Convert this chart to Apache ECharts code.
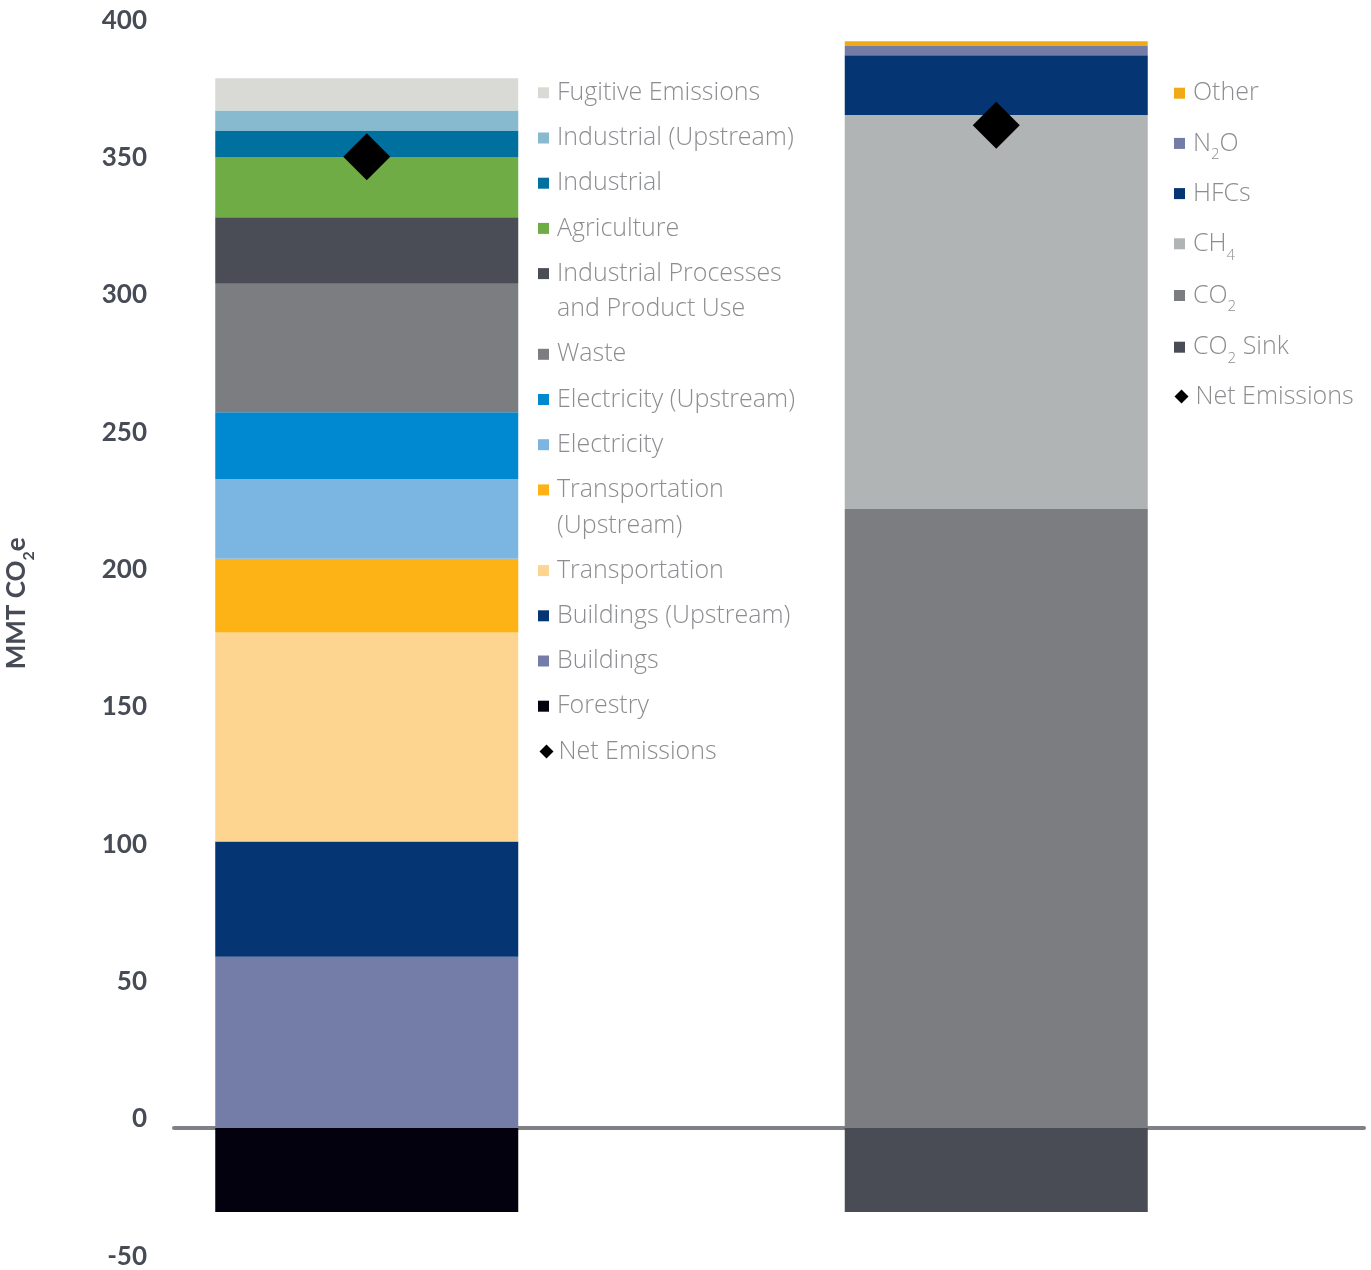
<!DOCTYPE html>
<html>
<head>
<meta charset="utf-8">
<title>Emissions by sector and by gas</title>
<script src="https://cdn.jsdelivr.net/npm/echarts@6/dist/echarts.min.js"></script>
<style>
  html, body { margin: 0; padding: 0; background: #ffffff; }
  #chart { width: 1371px; height: 1270px; }
</style>
</head>
<body>
<div id="chart"></div>
<script>
// Two stacked columns: emissions broken down by sector and by gas (MMT CO2e)
const columns = ['By Sector', 'By Gas'];

// Sector contributions, listed from the bottom of the stack upwards
const sectorNames = [
  'Forestry', 'Buildings', 'Buildings (Upstream)', 'Transportation',
  'Transportation (Upstream)', 'Electricity', 'Electricity (Upstream)', 'Waste',
  'Industrial Processes and Product Use', 'Agriculture', 'Industrial',
  'Industrial (Upstream)', 'Fugitive Emissions'
];
const sectorValues = [-30.6, 62.3, 42.0, 76.1, 26.9, 28.9, 24.4, 46.8, 24.2, 21.8, 9.8, 7.3, 11.7];

// Gas contributions, listed from the bottom of the stack upwards
const gasNames = ['CO2 Sink', 'CO2', 'CH4', 'HFCs', 'N2O', 'Other'];
const gasValues = [-30.6, 225.4, 143.4, 21.8, 3.4, 1.7];

// Net emissions of each column
const netName = 'Net Emissions';
const netEmissions = [353.6, 365.1];

// Value axis ticks
const yMin = -50;
const yMax = 400;
const yStep = 50;

// Colours
const sectorColors = [
  '#02010d', '#747da8', '#053572', '#fed590', '#fdb316', '#7ab6e1', '#0088d1',
  '#7b7d81', '#4a4d55', '#6fac46', '#00709f', '#87b9cf', '#d9d9d6'
];
const gasColors = ['#494c55', '#7b7d81', '#b1b4b4', '#053572', '#737ba7', '#efaa16'];

const AXIS_FONT = 'Lato, "Open Sans", sans-serif';
const LEGEND_FONT = '"Open Sans", Lato, sans-serif';
const LEGEND_TEXT = '#8b8d90';
const AXIS_TEXT = '#474b55';

// Long legend entries are broken over two lines
const wrappedNames = {
  'Industrial Processes and Product Use': 'Industrial Processes\nand Product Use',
  'Transportation (Upstream)': 'Transportation\n(Upstream)'
};

// Chemical formulas get their digits set as subscripts
function formula(name) {
  return name.split(/(\d)/).filter(p => p !== '')
    .map(p => /^\d$/.test(p) ? '{s|' + p + '}' : '{t|' + p + '}').join('');
}

const series = [];
sectorNames.forEach((name, i) => {
  series.push({
    type: 'bar', name: name, stack: 'total', barWidth: 303,
    xAxisIndex: 0, yAxisIndex: 0,
    itemStyle: { color: sectorColors[i] },
    emphasis: { disabled: true },
    data: [sectorValues[i], '-']
  });
});
gasNames.forEach((name, i) => {
  series.push({
    type: 'bar', name: name, stack: 'total', barWidth: 303,
    xAxisIndex: 0, yAxisIndex: 0,
    itemStyle: { color: gasColors[i] },
    emphasis: { disabled: true },
    data: ['-', gasValues[i]]
  });
});
series.push({
  type: 'scatter', name: netName, symbol: 'diamond', symbolSize: 47,
  xAxisIndex: 0, yAxisIndex: 0, z: 5,
  itemStyle: { color: '#000000', opacity: 1 },
  emphasis: { disabled: true },
  data: netEmissions
});

// ---- legends ----
const LINE = 35.5;      // legend line height
const GAP = 9.7;        // space between sector legend rows
const legendText = {
  fontFamily: LEGEND_FONT, fontWeight: 300, fontSize: 25, lineHeight: LINE,
  color: LEGEND_TEXT, padding: [0, 0, 0, 3]
};
function legendBlock(left, top, names, extra) {
  return Object.assign({
    orient: 'vertical', left: left, top: top, padding: 0,
    itemWidth: 11, itemHeight: 11, itemGap: GAP, icon: 'rect',
    selectedMode: false,
    textStyle: legendText,
    data: names
  }, extra || {});
}

// Sector legend: rows run top to bottom; a wrapped entry gets its own block
// so that its swatch sits level with the first line of its label.
const legends = [];
let rowCenter = 92.8;
let block = null;
sectorNames.slice().reverse().forEach(name => {
  const wrapped = !!wrappedNames[name];
  if (wrapped || !block || block.wrapped) {
    block = { names: [], wrapped: wrapped, top: rowCenter - LINE / 2 - (wrapped ? LINE : 0) };
    legends.push(block);
  }
  block.names.push(name);
  rowCenter += (wrapped ? 2 : 1) * LINE + GAP;
});
const sectorLegends = legends.map(b => legendBlock(538, b.top, b.names, {
  formatter: name => wrappedNames[name] ? '\n' + wrappedNames[name] : name
}));
sectorLegends.push(legendBlock(539.5, rowCenter - LINE / 2, [{ name: netName, icon: 'diamond' }], {
  itemWidth: 14, itemHeight: 14,
  textStyle: Object.assign({}, legendText, { padding: [0, 0, 0, 0] })
}));

// Gas legend
const GAS_TOP = 93.2;
const GAS_ROW = 50.55;
const gasRich = {
  t: { fontFamily: LEGEND_FONT, fontWeight: 300, fontSize: 25, lineHeight: 35, color: LEGEND_TEXT },
  s: { fontFamily: LEGEND_FONT, fontWeight: 300, fontSize: 15, lineHeight: 12, padding: [23, 0, 0, 0], color: LEGEND_TEXT }
};
const gasLegends = [
  legendBlock(1174, GAS_TOP - 17.5, gasNames.slice().reverse(), {
    itemGap: 13.7,
    formatter: name => formula(name),
    textStyle: Object.assign({}, legendText, { lineHeight: 35, rich: gasRich })
  }),
  legendBlock(1174.5, GAS_TOP + GAS_ROW * gasNames.length - 17.5, [{ name: netName, icon: 'diamond' }], {
    itemWidth: 14, itemHeight: 14,
    textStyle: Object.assign({}, legendText, { lineHeight: 35, padding: [0, 0, 0, 2] })
  })
];

const chart = echarts.init(document.getElementById('chart'), null, { renderer: 'canvas' });
chart.setOption({
  animation: false,
  backgroundColor: '#ffffff',
  textStyle: { fontFamily: AXIS_FONT },
  grid: [
    { left: 52, right: 60, top: 29.4, bottom: 4.7, outerBoundsMode: 'none' },
    { left: 174, right: 7, top: 29.4, bottom: 4.7, outerBoundsMode: 'none' }
  ],
  xAxis: [
    { gridIndex: 0, type: 'category', data: columns, show: false },
    {
      gridIndex: 1, type: 'category', data: [''],
      axisLine: { show: true, onZero: true, lineStyle: { color: '#7f8184', width: 4 } },
      axisTick: { show: false }, axisLabel: { show: false }, splitLine: { show: false }
    }
  ],
  yAxis: [
    { gridIndex: 0, type: 'value', min: yMin, max: yMax, interval: yStep, show: false },
    {
      gridIndex: 1, type: 'value', min: yMin, max: yMax, interval: yStep,
      axisLine: { show: false }, axisTick: { show: false }, splitLine: { show: false },
      axisLabel: {
        margin: 27, color: AXIS_TEXT, fontFamily: AXIS_FONT, fontWeight: 'bold', fontSize: 26,
        verticalAlign: 'bottom', lineHeight: 18
      },
      name: '{a|MMT CO}{s|2}{a|e}',
      nameLocation: 'middle',
      nameGap: 140,
      nameTextStyle: {
        padding: [0, 0, 0, 88],
        rich: {
          a: { fontFamily: AXIS_FONT, fontWeight: 'bold', fontSize: 26, lineHeight: 34, color: AXIS_TEXT },
          s: { fontFamily: AXIS_FONT, fontWeight: 'bold', fontSize: 16, lineHeight: 10, padding: [24, 0, 0, 0], color: AXIS_TEXT }
        }
      }
    }
  ],
  legend: sectorLegends.concat(gasLegends),
  series: series
});
</script>
</body>
</html>
